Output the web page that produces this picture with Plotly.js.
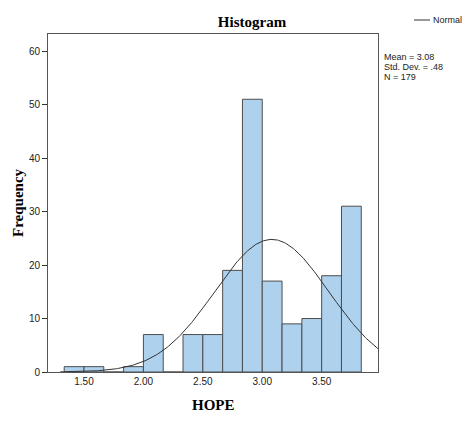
<!DOCTYPE html>
<html>
<head>
<meta charset="utf-8">
<script src="https://cdn.plot.ly/plotly-3.0.1.min.js"></script>
<style>html,body{margin:0;padding:0;background:#fff;}#chart{width:466px;height:423px;}</style>
</head>
<body>
<div id="chart"></div>
<script>
// Histogram of HOPE (SPSS style)
const binStart = 4 / 3;      // lower edge of first bin
const binWidth = 1 / 6;      // bin width
const counts = [1, 1, 0, 1, 7, 0, 7, 7, 19, 51, 17, 9, 10, 18, 31];
const statMean = 3.08;
const statSD = 0.48;
const statN = 179;
const statLines = ["Mean = 3.08", "Std. Dev. = .48", "N = 179"];
const xTickVals = [1.5, 2.0, 2.5, 3.0, 3.5];
const xTickText = ["1.50", "2.00", "2.50", "3.00", "3.50"];
const yTickVals = [0, 10, 20, 30, 40, 50, 60];

const xMin = 1.197, xMax = 3.974;
const W = 466, H = 423;
const mL = 48, mR = 88, mT = 34, mB = 51;
const pw = W - mL - mR, ph = H - mT - mB;
const px = v => (v - mL) / pw;         // container px -> paper x
const py = v => (H - mB - v) / ph;     // container px -> paper y

const centers = counts.map((c, i) => binStart + binWidth * (i + 0.5));

// Normal curve from the displayed statistics
const curveX = [], curveY = [];
for (let k = 0; k <= 300; k++) {
  const x = 1.3 + (xMax - 1.3) * k / 300;
  const z = (x - statMean) / statSD;
  curveX.push(x);
  curveY.push(statN * binWidth * Math.exp(-0.5 * z * z) / (statSD * Math.sqrt(2 * Math.PI)));
}

const bars = {
  type: 'bar', x: centers, y: counts, width: binWidth,
  marker: {color: '#aed1ee', line: {color: '#4d4d4d', width: 1}},
  showlegend: false, hoverinfo: 'x+y'
};
const curve = {
  type: 'scatter', mode: 'lines', x: curveX, y: curveY, name: 'Normal',
  line: {color: '#333333', width: 1}, showlegend: false
};

const serif = '"Liberation Serif", "Times New Roman", serif';
const sans = '"Liberation Sans", Arial, sans-serif';

const annotations = statLines.map((t, i) => ({
  xref: 'paper', yref: 'paper', x: px(382), y: py(57 + 10 * i), xanchor: 'left', yanchor: 'middle',
  align: 'left', showarrow: false, text: t,
  font: {family: sans, size: 9, color: '#222'}
}));
annotations.push({
  xref: 'paper', yref: 'paper', x: px(431), y: py(20), xanchor: 'left', yanchor: 'middle',
  showarrow: false, text: 'Normal', font: {family: sans, size: 9, color: '#222'}
});
annotations.push({
  xref: 'paper', yref: 'paper', x: px(18), y: 0.5, xanchor: 'center', yanchor: 'middle',
  showarrow: false, textangle: -90, text: '<b>Frequency</b>',
  font: {family: serif, size: 15, color: '#000'}
});
annotations.push({
  xref: 'paper', yref: 'paper', x: 0.5, y: py(405), xanchor: 'center', yanchor: 'middle',
  showarrow: false, text: '<b>HOPE</b>',
  font: {family: serif, size: 15, color: '#000'}
});

const layout = {
  width: W, height: H,
  margin: {l: mL, r: mR, t: mT, b: mB, pad: 0, autoexpand: false},
  paper_bgcolor: '#fff', plot_bgcolor: '#fff',
  bargap: 0,
  title: {text: '<b>Histogram</b>', font: {family: serif, size: 15, color: '#000'},
          xref: 'container', x: 252 / W, xanchor: 'center', yref: 'container', y: 1 - 22 / H, yanchor: 'middle'},
  xaxis: {
    range: [xMin, xMax], tickvals: xTickVals, ticktext: xTickText,
    ticks: '', showgrid: false, zeroline: false, automargin: false,
    showline: true, linecolor: '#555', linewidth: 1, mirror: true,
    tickfont: {family: sans, size: 10, color: '#222'}
  },
  yaxis: {
    range: [0, 63.2], tickvals: yTickVals, automargin: false,
    ticks: 'outside', ticklen: 5, tickcolor: '#333', showgrid: false, zeroline: false,
    showline: true, linecolor: '#555', linewidth: 1, mirror: true,
    tickfont: {family: sans, size: 10, color: '#222'}
  },
  shapes: [{
    type: 'line', xref: 'paper', yref: 'paper',
    x0: px(414), x1: px(430), y0: py(20), y1: py(20),
    line: {color: '#333', width: 1}
  }],
  annotations: annotations,
  showlegend: false
};

Plotly.newPlot('chart', [bars, curve], layout, {displayModeBar: false, staticPlot: true});
</script>
</body>
</html>
